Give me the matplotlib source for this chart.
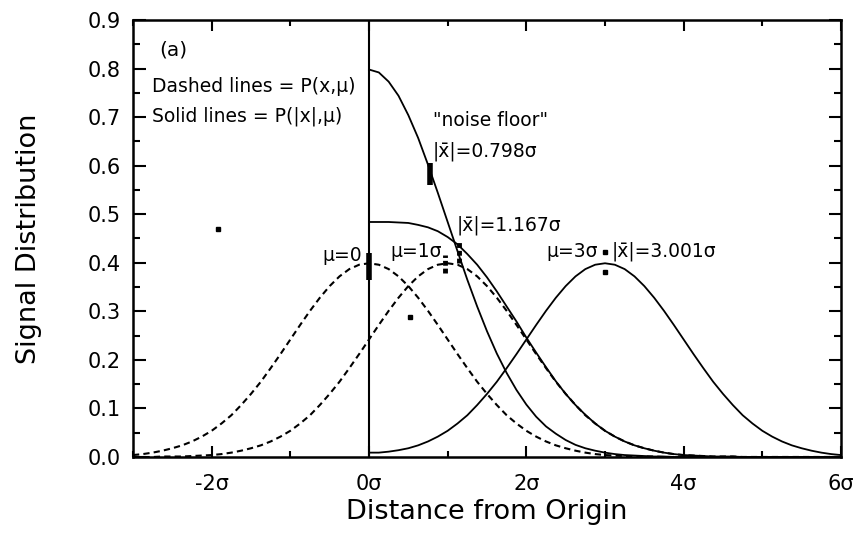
import matplotlib
matplotlib.use("Agg")
import matplotlib.pyplot as plt
import numpy as np
from matplotlib.ticker import MultipleLocator, FixedLocator, FormatStrFormatter

plt.rcParams['font.family'] = ['DejaVu Sans']

# sample grids (in units of sigma)
x_full = np.arange(-3.0, 6.001, 0.125)   # dashed curves
x_half = np.arange(0.0, 6.001, 0.125)    # solid curves

# dashed lines: P(x, mu)
dash_mu0 = [0.004, 0.006, 0.009, 0.013, 0.018, 0.024, 0.032, 0.042, 0.054, 0.069,
            0.086, 0.107, 0.130, 0.155, 0.183, 0.212, 0.242, 0.272, 0.301, 0.328,
            0.352, 0.372, 0.387, 0.396, 0.399,
            0.396, 0.387, 0.372, 0.352, 0.328, 0.301, 0.272, 0.242, 0.212, 0.183,
            0.155, 0.130, 0.107, 0.086, 0.069, 0.054, 0.042, 0.032, 0.024, 0.018,
            0.013, 0.009, 0.006, 0.004, 0.003, 0.002, 0.001, 0.001, 0.001,
            0, 0, 0, 0, 0, 0, 0, 0, 0, 0, 0, 0, 0, 0, 0, 0, 0, 0, 0]
dash_mu1 = [0.000, 0.000, 0.000, 0.001, 0.001, 0.001, 0.002, 0.003, 0.004, 0.006,
            0.009, 0.013, 0.018, 0.024, 0.032, 0.042, 0.054, 0.069, 0.086, 0.107,
            0.130, 0.155, 0.183, 0.212, 0.242, 0.272, 0.301, 0.328, 0.352, 0.372,
            0.387, 0.396, 0.399,
            0.396, 0.387, 0.372, 0.352, 0.328, 0.301, 0.272, 0.242, 0.212, 0.183,
            0.155, 0.130, 0.107, 0.086, 0.069, 0.054, 0.042, 0.032, 0.024, 0.018,
            0.013, 0.009, 0.006, 0.004, 0.003, 0.002, 0.001, 0.001, 0.001,
            0, 0, 0, 0, 0, 0, 0, 0, 0, 0, 0]

# solid lines: P(|x|, mu)
solid_mu0 = [0.798, 0.792, 0.773, 0.744, 0.704, 0.657, 0.602, 0.544, 0.484, 0.424,
             0.365, 0.310, 0.259, 0.213, 0.173, 0.138, 0.108, 0.083, 0.063, 0.048,
             0.035, 0.025, 0.018, 0.013, 0.009, 0.006, 0.004, 0.003, 0.002, 0.001,
             0.001, 0, 0, 0, 0, 0, 0, 0, 0, 0, 0, 0, 0, 0, 0, 0, 0, 0, 0]
solid_mu1 = [0.484, 0.484, 0.484, 0.483, 0.482, 0.478, 0.473, 0.465, 0.453, 0.438,
             0.418, 0.396, 0.370, 0.341, 0.310, 0.279, 0.246, 0.215, 0.185, 0.156,
             0.130, 0.107, 0.087, 0.069, 0.054, 0.042, 0.032, 0.024, 0.018, 0.013,
             0.009, 0.006, 0.004, 0.003, 0.002, 0.001, 0.001, 0.001,
             0, 0, 0, 0, 0, 0, 0, 0, 0, 0, 0]
solid_mu3 = [0.009, 0.009, 0.011, 0.014, 0.018, 0.024, 0.032, 0.042, 0.054, 0.069,
             0.086, 0.107, 0.130, 0.155, 0.183, 0.212, 0.242, 0.272, 0.301, 0.328,
             0.352, 0.372, 0.387, 0.396, 0.399,
             0.396, 0.387, 0.372, 0.352, 0.328, 0.301, 0.272, 0.242, 0.212, 0.183,
             0.155, 0.130, 0.107, 0.086, 0.069, 0.054, 0.042, 0.032, 0.024, 0.018,
             0.013, 0.009, 0.006, 0.004]

# thick marks at the means
mark_x = [0.0, 0.78, 0.97, 1.14]
mark_lo = [0.365, 0.560, 0.379, 0.399]
mark_hi = [0.420, 0.605, 0.416, 0.447]
mark_dashed = [False, False, True, True]

# small dots
dot_x = [3.0, 3.0, 0.52, -1.92]
dot_y = [0.423, 0.382, 0.289, 0.470]

xtick_vals = [-2, 0, 2, 4, 6]
xtick_labels = ['-2σ', '0σ', '2σ', '4σ', '6σ']

fig = plt.figure(figsize=(8.58, 5.36), dpi=100)
ax = fig.add_axes([133 / 858, 1 - 457 / 536, 708 / 858, 437 / 536])

dash_style = (0, (3, 2))
ax.plot(x_full, dash_mu0, color='black', lw=1.5, linestyle=dash_style)
ax.plot(x_full, dash_mu1, color='black', lw=1.5, linestyle=dash_style)
ax.plot(x_half, solid_mu0, color='black', lw=1.3)
ax.plot(x_half, solid_mu1, color='black', lw=1.3)
ax.plot(x_half, solid_mu3, color='black', lw=1.3)
ax.axvline(0, color='black', lw=1.5)

for mx, lo, hi, dsh in zip(mark_x, mark_lo, mark_hi, mark_dashed):
    if dsh:
        ax.vlines(mx, lo, hi, color='black', lw=3.5, linestyles=(0, (1.0, 0.6)))
    else:
        ax.vlines(mx, lo, hi, color='black', lw=4)
ax.plot(dot_x, dot_y, 's', color='black', ms=3)

ax.set_xlim(-3, 6)
ax.set_ylim(0, 0.9)
ax.xaxis.set_major_locator(FixedLocator(xtick_vals))
ax.set_xticklabels(xtick_labels)
ax.xaxis.set_minor_locator(MultipleLocator(1))
ax.yaxis.set_major_locator(MultipleLocator(0.1))
ax.yaxis.set_minor_locator(MultipleLocator(0.05))
ax.yaxis.set_major_formatter(FormatStrFormatter('%.1f'))
ax.tick_params(which='both', direction='in', top=True, right=True, labelsize=15)
ax.tick_params(axis='y', which='both', pad=9)
ax.tick_params(axis='x', which='both', pad=12)
ax.tick_params(axis='y', which='major', length=9, width=1.5)
ax.tick_params(axis='y', which='minor', length=5, width=1.5)
ax.tick_params(axis='x', which='major', length=8, width=1.5)
ax.tick_params(axis='x', which='minor', length=4, width=1.5)
for s in ax.spines.values():
    s.set_linewidth(1.8)

ax.set_xlabel('Distance from Origin', fontsize=19.5, labelpad=4)
ax.set_ylabel('Signal Distribution', fontsize=19.5)
ax.yaxis.set_label_coords(-0.128, 0.5)

fs = 13.5
ax.text(-2.66, 0.838, '(a)', fontsize=14.5, ha='left', va='center')
ax.text(-2.76, 0.764, 'Dashed lines = P(x,μ)', fontsize=fs, ha='left', va='center')
ax.text(-2.76, 0.701, 'Solid lines = P(|x|,μ)', fontsize=fs, ha='left', va='center')
ax.text(0.81, 0.694, '"noise floor"', fontsize=fs, ha='left', va='center')
ax.text(0.81, 0.629, '|x\u0304|=0.798σ', fontsize=fs, ha='left', va='center')
ax.text(1.12, 0.478, '|x\u0304|=1.167σ', fontsize=fs, ha='left', va='center')
ax.text(-0.09, 0.416, 'μ=0', fontsize=fs, ha='right', va='center')
ax.text(0.27, 0.423, 'μ=1σ', fontsize=fs, ha='left', va='center')
ax.text(2.25, 0.423, 'μ=3σ', fontsize=fs, ha='left', va='center')
ax.text(3.08, 0.423, '|x\u0304|=3.001σ', fontsize=fs, ha='left', va='center')

fig.savefig('out.png', dpi=100)
